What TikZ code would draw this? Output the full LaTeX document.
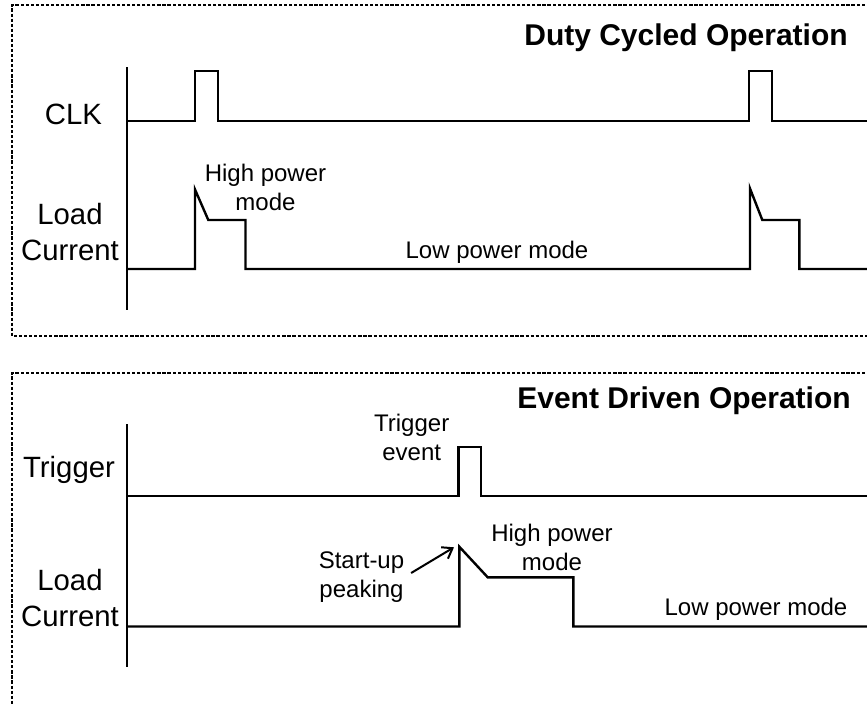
\documentclass[tikz,border=0pt]{standalone}
\usepackage{fontspec}
\setmainfont{Liberation Sans}
\usetikzlibrary{arrows.meta}
\begin{document}
\begin{tikzpicture}[x=0.75pt,y=-0.75pt,
  frame/.style={line width=1.5pt, dash pattern=on 2.4pt off 1.4pt},
  signal/.style={line width=1.8pt},
  axisline/.style={line width=1.8pt},
  biglabel/.style={inner sep=0pt, align=center, font=\fontsize{22}{26.5}\selectfont},
  smalllabel/.style={inner sep=0pt, align=center, font=\fontsize{18}{21.2}\selectfont},
  paneltitle/.style={inner sep=0pt, anchor=base east, font=\fontsize{22.5}{27}\selectfont\bfseries},
  pointer/.style={line width=1.5pt, -{Straight Barb[length=7pt,width=10pt]}},
]
\useasboundingbox (0,0) rectangle (867,704);
\clip (0,0) rectangle (867,704);
\fill[white] (0,0) rectangle (867,704);

% panel frames
\draw[frame] (880,5) -- (12,5) -- (12,336) -- (880,336);
\draw[frame] (880,373) -- (12,373) -- (12,720);

% ---------- duty cycled panel ----------
\node[paneltitle] (t1) at (848,45) {Duty Cycled Operation};
\draw[axisline] (127,67) -- (127,310);

\node[biglabel, anchor=base] (clk) at (73.5,124) {CLK};
\node[biglabel] (load1) at (70,232) {Load\\Current};

\draw[signal] (127,121) -- (195,121) -- (195,71) -- (218,71) -- (218,121)
  -- (749,121) -- (749,71) -- (772,71) -- (772,121) -- (867,121);
\draw[signal] (127,269) -- (195,269) -- (195,189.5) -- (208.3,220) -- (245.5,220)
  -- (245.5,269) -- (750,269) -- (750,188.5) -- (762.3,220) -- (799.3,220)
  -- (799.3,269) -- (867,269);

\node[smalllabel] (hp1) at (265.5,187.5) {High power\\mode};
\node[smalllabel, anchor=base] (lp1) at (497,258) {Low power mode};

% ---------- event driven panel ----------
\node[paneltitle] (t2) at (851,408) {Event Driven Operation};
\draw[axisline] (127,424) -- (127,667);

\node[biglabel, anchor=base] (trig) at (69,477) {Trigger};
\node[biglabel] (load2) at (70,598) {Load\\Current};

\draw[signal] (127,496) -- (458.3,496) -- (458.3,447) -- (480.7,447)
  -- (480.7,496) -- (867,496);
\draw[signal] (127,626.5) -- (459.3,626.5) -- (459.3,546.7) -- (487.7,577.3)
  -- (573.3,577.3) -- (573.3,626.5) -- (867,626.5);

\node[smalllabel] (tev) at (411.7,437.5) {Trigger\\event};
\node[smalllabel] (su) at (361.5,577) {Start-up\\peaking};
\node[smalllabel] (hp2) at (552,547.5) {High power\\mode};
\node[smalllabel, anchor=base] (lp2) at (756,615.7) {Low power mode};

\coordinate (peak) at (454,547.3);
\draw[pointer] ([xshift=5pt,yshift=3pt]su.east) -- (peak);
\end{tikzpicture}
\end{document}
